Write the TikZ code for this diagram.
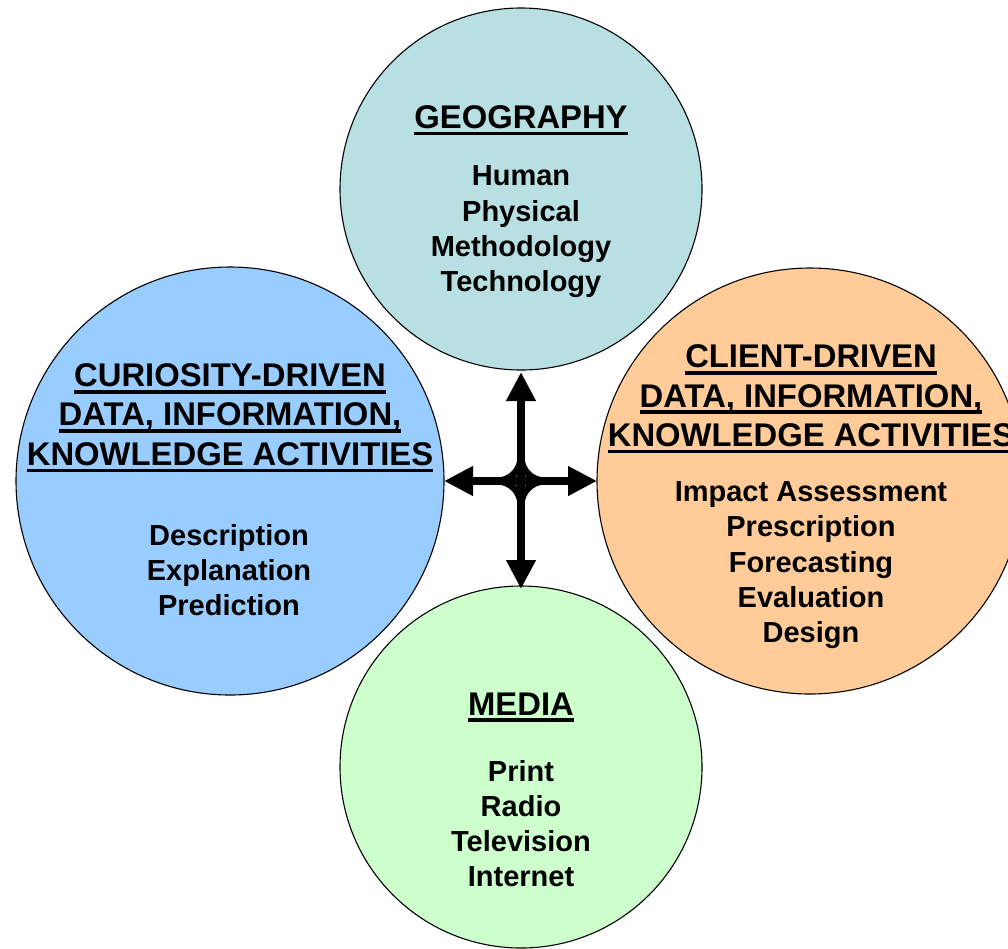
\documentclass[tikz,border=0pt]{standalone}
\usepackage{fontspec}
\setmainfont{Liberation Sans}
\usetikzlibrary{arrows.meta}
\definecolor{geoc}{HTML}{B8DFE2}
\definecolor{curc}{HTML}{99CCFF}
\definecolor{clic}{HTML}{FFCC99}
\definecolor{medc}{HTML}{CCFFCC}
\newcommand\ulh[1]{\setbox0=\hbox{#1}\rlap{\rule[-6.8pt]{\wd0}{3.4pt}}\box0}
\tikzset{
  disc/.style={circle, draw=black, line width=1.1pt, inner sep=0pt},
  hdr/.style={anchor=base, inner sep=0pt, font=\fontsize{32.8}{39}\selectfont\bfseries},
  body/.style={anchor=base, inner sep=0pt, font=\fontsize{29}{35}\selectfont\bfseries},
  arr/.style={line width=7.5pt, -{Triangle[width=28pt,length=29pt]}},
  fil/.style={line width=7pt, rounded corners=24pt}
}
\begin{document}
\begin{tikzpicture}[x=1pt,y=-1pt]
\useasboundingbox (0,0) rectangle (1008,948);
\clip (0,0) rectangle (1008,948);
% circles
\node[disc, fill=geoc, minimum size=362pt] (geo) at (521,189) {};
\node[disc, fill=curc, minimum size=428pt] (cur) at (230,481) {};
\node[disc, fill=clic, minimum size=426pt] (cli) at (810,481) {};
\node[disc, fill=medc, minimum size=362pt] (med) at (521,767) {};
% centre cross
\coordinate (c) at (521,481);
\coordinate (ct) at (521,372);
\coordinate (cb) at (521,589);
\coordinate (cl) at (444,481);
\coordinate (cr) at (597,481);
\draw[fil] (521,430) -- (c) -- (470,481);
\draw[fil] (521,430) -- (c) -- (572,481);
\draw[fil] (521,532) -- (c) -- (470,481);
\draw[fil] (521,532) -- (c) -- (572,481);
\draw[arr] (c) -- (ct);
\draw[arr] (c) -- (cb);
\draw[arr] (c) -- (cl);
\draw[arr] (c) -- (cr);
% geography
\node[hdr] (geoh) at (521,128.3) {\ulh{GEOGRAPHY}};
\foreach \t [count=\i] in {Human,Physical,Methodology,Technology}
  \node[body] (geo\i) at (521,{185.7+35.3*(\i-1)}) {\t};
% curiosity
\foreach \t [count=\i] in {CURIOSITY-DRIVEN,{DATA, INFORMATION,},KNOWLEDGE ACTIVITIES}
  \node[hdr] (curh\i) at (230,{386.7+39.2*(\i-1)}) {\ulh{\t}};
\foreach \t [count=\i] in {Description,Explanation,Prediction}
  \node[body] (cur\i) at (229,{545.7+34.7*(\i-1)}) {\t};
% client
\foreach \t [count=\i] in {CLIENT-DRIVEN,{DATA, INFORMATION,},KNOWLEDGE ACTIVITIES}
  \node[hdr] (clih\i) at (811,{367.7+39.3*(\i-1)}) {\ulh{\t}};
\foreach \t [count=\i] in {Impact Assessment,Prescription,Forecasting,Evaluation,Design}
  \node[body] (cli\i) at (811,{501.7+35.15*(\i-1)}) {\t};
% media
\node[hdr] (medh) at (521,715) {\ulh{MEDIA}};
\foreach \t [count=\i] in {Print,Radio,Television,Internet}
  \node[body] (med\i) at (521,{781.7+35*(\i-1)}) {\t};
\end{tikzpicture}
\end{document}
